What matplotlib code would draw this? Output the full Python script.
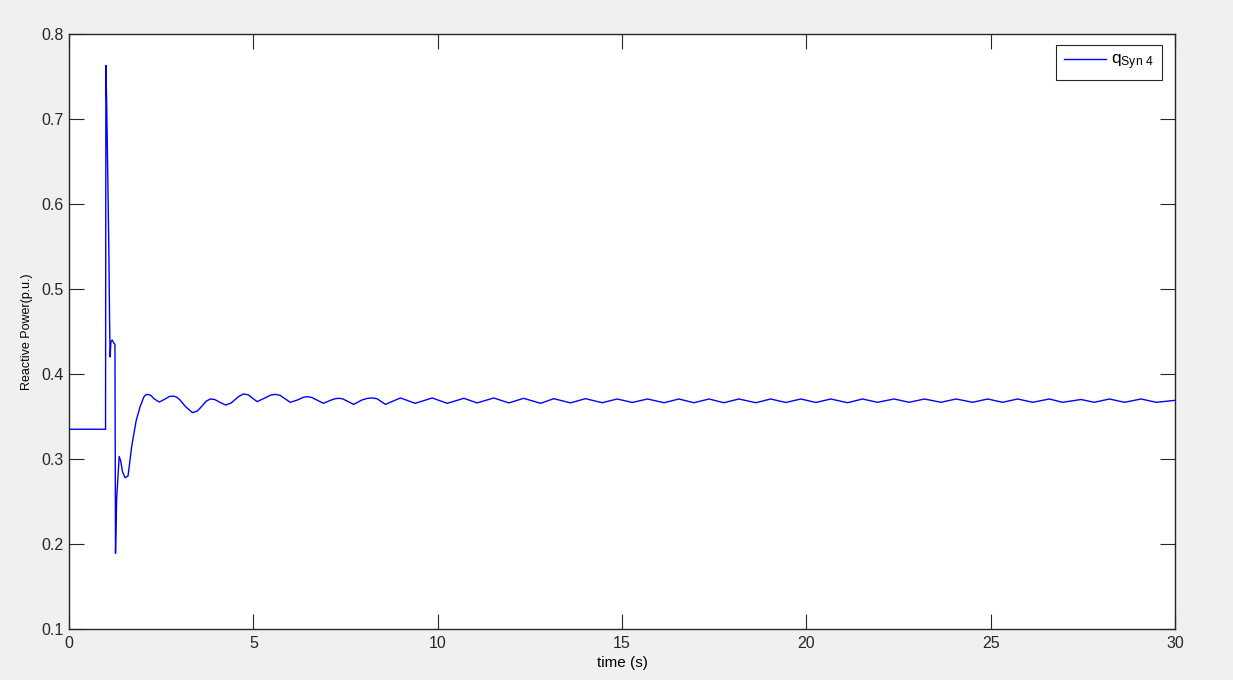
import matplotlib
matplotlib.use("Agg")
from matplotlib import pyplot as plt

# reactive power of synchronous machine 4
time_s = [0.0, 0.99, 1.0, 1.02, 1.05, 1.08, 1.10, 1.115, 1.135, 1.17, 1.22, 1.245,
          1.26, 1.29, 1.36, 1.40, 1.45, 1.52, 1.60, 1.70, 1.82, 1.93, 2.03, 2.08, 2.14,
          2.22, 2.30, 2.45, 2.60, 2.72, 2.83, 2.92, 3.02, 3.15, 3.35, 3.48, 3.60,
          3.72, 3.83, 3.95, 4.10, 4.25, 4.40, 4.60, 4.73, 4.86, 5.10, 5.30, 5.47,
          5.59, 5.72, 6.00, 6.20, 6.35, 6.45, 6.58, 6.90, 7.10, 7.22, 7.31, 7.42,
          7.72, 7.95, 8.10, 8.22, 8.35, 8.58, 8.99, 9.39, 9.85, 10.26,
          10.71, 11.07, 11.52, 11.93, 12.33, 12.79, 13.15, 13.60, 14.01, 14.46,
          14.87, 15.28, 15.69, 16.14, 16.54, 16.95, 17.36, 17.76, 18.17, 18.63,
          19.03, 19.44, 19.85, 20.26, 20.66, 21.12, 21.52, 21.93, 22.38, 22.79,
          23.20, 23.65, 24.06, 24.51, 24.92, 25.32, 25.73, 26.14, 26.59, 26.95,
          27.45, 27.81, 28.22, 28.63, 29.08, 29.49, 30.0]
q_syn4 = [0.335, 0.335, 0.763, 0.720, 0.634, 0.545, 0.460, 0.420, 0.438, 0.440, 0.436, 0.435,
          0.189, 0.252, 0.303, 0.298, 0.285, 0.278, 0.280, 0.315, 0.345, 0.362, 0.373, 0.3755, 0.376,
          0.3748, 0.371, 0.367, 0.3705, 0.3735, 0.374, 0.3728, 0.369, 0.362, 0.3545, 0.3565, 0.362,
          0.368, 0.3706, 0.370, 0.3665, 0.3635, 0.366, 0.3735, 0.3765, 0.3755, 0.3675, 0.3715, 0.3752,
          0.376, 0.375, 0.3667, 0.3695, 0.3725, 0.3733, 0.3725, 0.3655, 0.3692, 0.3709, 0.3714, 0.3708,
          0.3643, 0.3695, 0.3714, 0.3718, 0.371, 0.3643, 0.3718, 0.3655, 0.3718, 0.3655,
          0.3714, 0.366, 0.3718, 0.366, 0.3714, 0.3655, 0.371, 0.366, 0.371, 0.3662,
          0.3706, 0.3665, 0.3706, 0.3662, 0.3706, 0.3662, 0.3706, 0.3662, 0.3706, 0.3662,
          0.3706, 0.3665, 0.3706, 0.3665, 0.3706, 0.3662, 0.3706, 0.3667, 0.3706, 0.3667,
          0.3706, 0.3667, 0.3706, 0.3667, 0.3706, 0.3667, 0.3706, 0.3667, 0.3706, 0.3667,
          0.3700, 0.3667, 0.3706, 0.3667, 0.3706, 0.3667, 0.369]

x_ticks = [0, 5, 10, 15, 20, 25, 30]
y_ticks = [0.1, 0.2, 0.3, 0.4, 0.5, 0.6, 0.7, 0.8]

plt.rcParams['font.family'] = ['Liberation Sans', 'DejaVu Sans']

fig = plt.figure(figsize=(12.33, 6.8), dpi=100, facecolor="#f0f0f0")
ax = fig.add_axes([0.056, 0.075, 0.897, 0.875])

ax.plot(time_s, q_syn4, color="blue", linewidth=1.0, label=r"$\mathregular{q_{Syn\ 4}}$")

ax.set_xlim(0, 30)
ax.set_ylim(0.1, 0.8)
ax.set_xticks(x_ticks)
ax.set_yticks(y_ticks)
ax.set_yticklabels([f"{v:.1f}" for v in y_ticks])
ax.tick_params(direction="in", length=11, width=0.8, top=True, right=True,
               labelsize=11.5, colors="#262626")
ax.tick_params(axis="x", pad=5)
ax.tick_params(axis="y", pad=4)
for side in ax.spines.values():
    side.set_linewidth(1.0)
    side.set_color("#262626")

ax.set_xlabel("time (s)", fontsize=11, labelpad=4)
ax.set_ylabel("Reactive Power(p.u.)", fontsize=9, labelpad=6)

leg = ax.legend(loc="upper right", bbox_to_anchor=(0.988, 0.982), fontsize=12.5,
                handlelength=2.4, handletextpad=0.3, borderpad=0.45,
                fancybox=False, framealpha=1, borderaxespad=0)
leg.get_frame().set_edgecolor("#262626")
leg.get_frame().set_linewidth(0.8)

fig.savefig("out.png", dpi=100, facecolor=fig.get_facecolor())
